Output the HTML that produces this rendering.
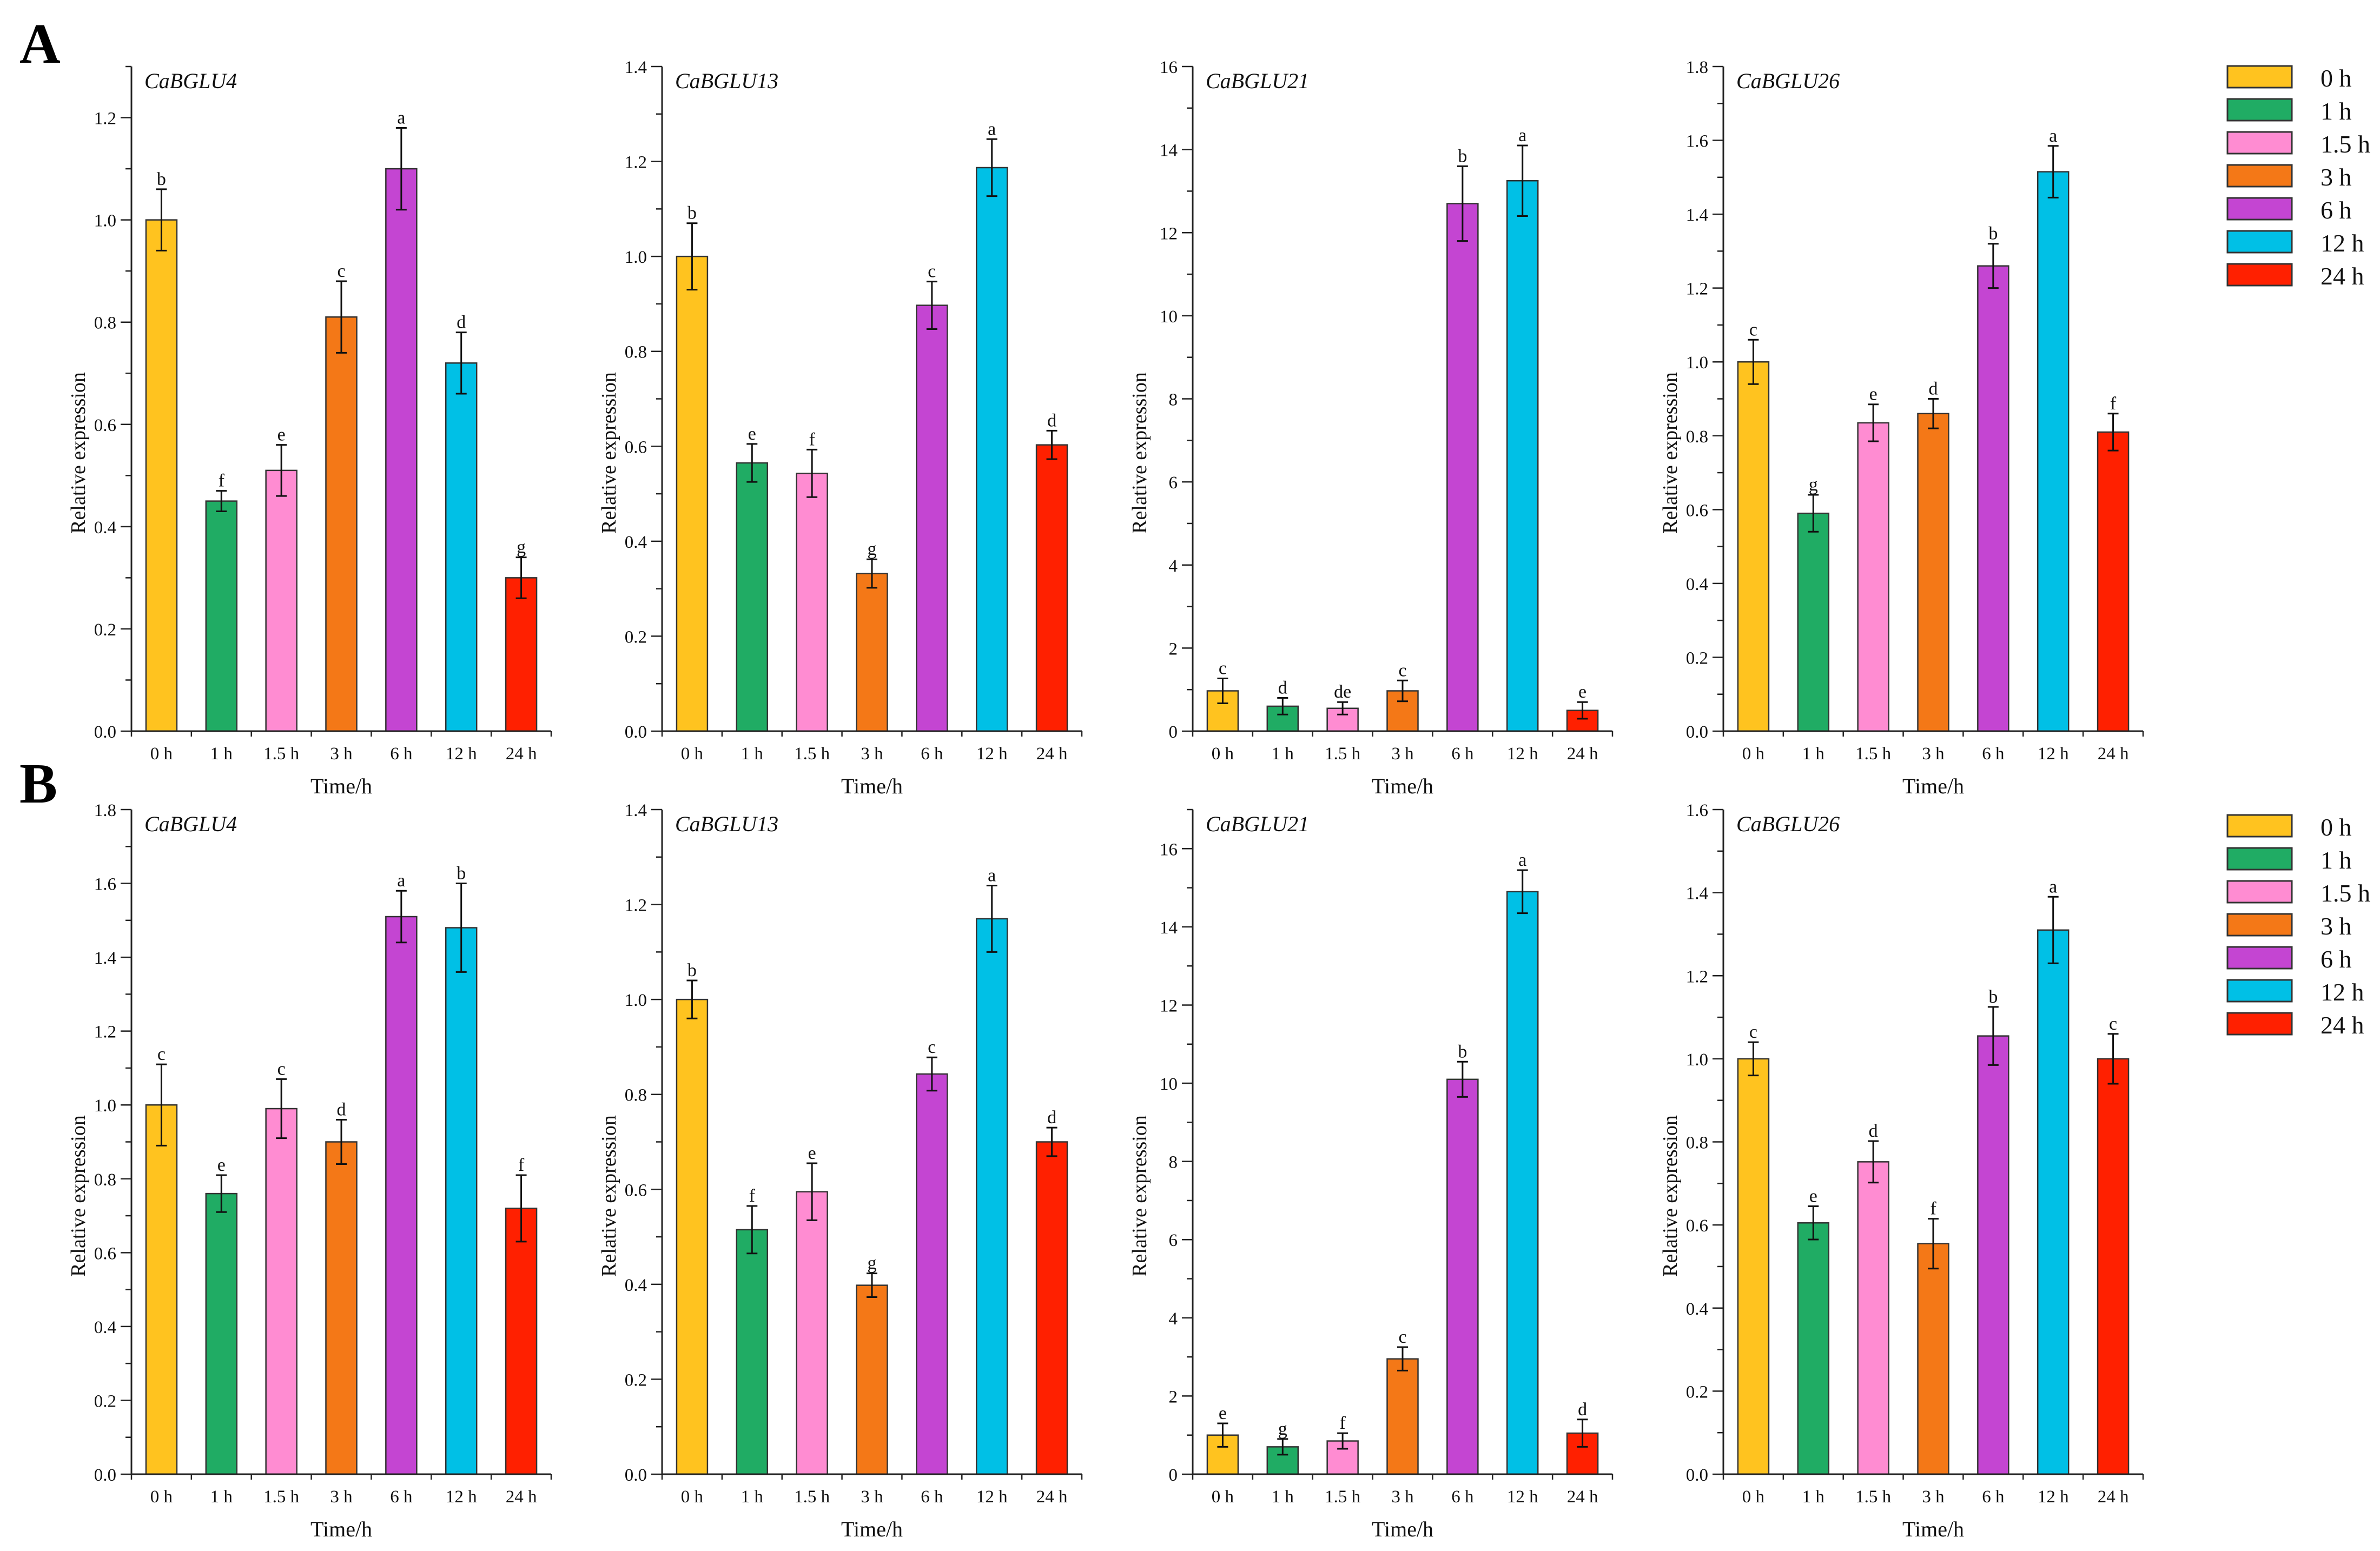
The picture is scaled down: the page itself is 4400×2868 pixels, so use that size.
<!DOCTYPE html>
<html><head><meta charset="utf-8"><style>
html,body{margin:0;padding:0;background:#fff;}
svg{display:block;font-family:"Liberation Serif",serif;}
</style></head><body>
<svg id="chart" width="4400" height="2868" viewBox="0 0 4400 2868" xmlns="http://www.w3.org/2000/svg"></svg>
<script>
const categories = ["0 h","1 h","1.5 h","3 h","6 h","12 h","24 h"];
const colors = ["#FFC31F","#20AC64","#FF8CD2","#F47817","#C445D2","#00C0E6","#FF2000"];
const genes = ["CaBGLU4","CaBGLU13","CaBGLU21","CaBGLU26"];

const a1Values = [1.0,0.45,0.51,0.81,1.10,0.72,0.30];
const a1Errors = [0.06,0.02,0.05,0.07,0.08,0.06,0.04];
const a1Letters = ["b","f","e","c","a","d","g"];
const a2Values = [1.0,0.565,0.543,0.332,0.897,1.187,0.603];
const a2Errors = [0.07,0.04,0.05,0.03,0.05,0.06,0.03];
const a2Letters = ["b","e","f","g","c","a","d"];
const a3Values = [0.97,0.6,0.55,0.97,12.7,13.25,0.5];
const a3Errors = [0.3,0.2,0.15,0.25,0.9,0.85,0.2];
const a3Letters = ["c","d","de","c","b","a","e"];
const a4Values = [1.0,0.59,0.835,0.86,1.26,1.515,0.81];
const a4Errors = [0.06,0.05,0.05,0.04,0.06,0.07,0.05];
const a4Letters = ["c","g","e","d","b","a","f"];
const b1Values = [1.0,0.76,0.99,0.9,1.51,1.48,0.72];
const b1Errors = [0.11,0.05,0.08,0.06,0.07,0.12,0.09];
const b1Letters = ["c","e","c","d","a","b","f"];
const b2Values = [1.0,0.515,0.595,0.398,0.843,1.17,0.70];
const b2Errors = [0.04,0.05,0.06,0.025,0.035,0.07,0.03];
const b2Letters = ["b","f","e","g","c","a","d"];
const b3Values = [1.0,0.7,0.85,2.95,10.1,14.9,1.05];
const b3Errors = [0.3,0.2,0.2,0.3,0.45,0.55,0.35];
const b3Letters = ["e","g","f","c","b","a","d"];
const b4Values = [1.0,0.605,0.752,0.555,1.055,1.31,1.0];
const b4Errors = [0.04,0.04,0.05,0.06,0.07,0.08,0.06];
const b4Letters = ["c","e","d","f","b","a","c"];

const a1Ticks = [0,0.2,0.4,0.6,0.8,1.0,1.2];
const a2Ticks = [0,0.2,0.4,0.6,0.8,1.0,1.2,1.4];
const a3Ticks = [0,2,4,6,8,10,12,14,16];
const a4Ticks = [0,0.2,0.4,0.6,0.8,1.0,1.2,1.4,1.6,1.8];
const b1Ticks = [0,0.2,0.4,0.6,0.8,1.0,1.2,1.4,1.6,1.8];
const b2Ticks = [0,0.2,0.4,0.6,0.8,1.0,1.2,1.4];
const b3Ticks = [0,2,4,6,8,10,12,14,16];
const b4Ticks = [0,0.2,0.4,0.6,0.8,1.0,1.2,1.4,1.6];
const axisMax = [1.3,1.4,16,1.8,1.8,1.4,17,1.6];

const NS="http://www.w3.org/2000/svg";
const svg=document.getElementById('chart');
function mk(tag,attrs,parent){const e=document.createElementNS(NS,tag);for(const k in attrs)e.setAttribute(k,attrs[k]);(parent||svg).appendChild(e);return e;}

const panels=[
 {v:a1Values,e:a1Errors,l:a1Letters,t:a1Ticks,max:axisMax[0],g:0,row:0,dec:1},
 {v:a2Values,e:a2Errors,l:a2Letters,t:a2Ticks,max:axisMax[1],g:1,row:0,dec:1},
 {v:a3Values,e:a3Errors,l:a3Letters,t:a3Ticks,max:axisMax[2],g:2,row:0,dec:0},
 {v:a4Values,e:a4Errors,l:a4Letters,t:a4Ticks,max:axisMax[3],g:3,row:0,dec:1},
 {v:b1Values,e:b1Errors,l:b1Letters,t:b1Ticks,max:axisMax[4],g:0,row:1,dec:1},
 {v:b2Values,e:b2Errors,l:b2Letters,t:b2Ticks,max:axisMax[5],g:1,row:1,dec:1},
 {v:b3Values,e:b3Errors,l:b3Letters,t:b3Ticks,max:axisMax[6],g:2,row:1,dec:0},
 {v:b4Values,e:b4Errors,l:b4Letters,t:b4Ticks,max:axisMax[7],g:3,row:1,dec:1}
];

panels.forEach((p,pi)=>{
  const x0=243+981*p.g, x1=x0+776;
  const yZero=p.row===0?1352:2726, yTop=yZero-1229;
  const band=(x1-x0)/categories.length;
  const xC=i=>x0+(i+0.5)*band;
  const yS=v=>yZero-(v/p.max)*(yZero-yTop);
  const G=mk('g',{});
  
  
  // bars
  p.v.forEach((val,i)=>{
    const bw=57;
    const r=mk('rect',{x:xC(i)-bw/2,y:yS(val),width:bw,height:yZero-yS(val),fill:colors[i],stroke:'#333',"stroke-width":2.5},G);
    
    
    const top=yS(val+p.e[i]), bot=yS(val-p.e[i]);
    const eb=mk('path',{d:`M${xC(i)},${top}V${bot}M${xC(i)-10},${top}H${xC(i)+10}M${xC(i)-10},${bot}H${xC(i)+10}`,stroke:'#111',"stroke-width":3,fill:'none'},G);
    
    
    const lt=mk('text',{x:xC(i),y:top-8,"text-anchor":'middle',"font-size":34,fill:'#111'},G);
    lt.textContent=p.l[i];
    
    
  });
  // axes
  const ax=mk('path',{d:`M${x0},${yTop}V${yZero}H${x1}`,stroke:'#222',"stroke-width":3,fill:'none'},G);
  
  
  const step=p.t[1]-p.t[0];
  for(let m=0;m<=p.max+1e-9;m+=step/2){
    const major=Math.abs(Math.round(m/step)*step-m)<1e-9;
    mk('line',{x1:x0-(major?20:11),x2:x0,y1:yS(m),y2:yS(m),stroke:'#222',"stroke-width":2.5},G);
  }
  p.t.forEach(tv=>{
    const tt=mk('text',{x:x0-28,y:yS(tv)+12,"text-anchor":'end',"font-size":33,fill:'#111'},G);
    tt.textContent=tv.toFixed(p.dec);
    
    
  });
  for(let i=0;i<=categories.length;i++){
    mk('line',{x1:x0+i*band,x2:x0+i*band,y1:yZero,y2:yZero+10,stroke:'#222',"stroke-width":2.5},G);
  }
  categories.forEach((c,i)=>{
    const xt=mk('text',{x:xC(i),y:yZero+52,"text-anchor":'middle',"font-size":33,fill:'#111'},G);
    xt.textContent=c;
    
    
  });
  const xl=mk('text',{x:(x0+x1)/2,y:yZero+115,"text-anchor":'middle',"font-size":40,fill:'#111'},G);
  xl.textContent='Time/h';
  
  
  const yl=mk('text',{x:0,y:0,"text-anchor":'middle',"font-size":38,fill:'#111',transform:`translate(${x0-86},${(yTop+yZero)/2+100}) rotate(-90)`},G);
  yl.textContent='Relative expression';
  
  
  const ti=mk('text',{x:x0+24,y:yTop+40,"font-size":40,"font-style":'italic',fill:'#111'},G);
  ti.textContent=genes[p.g];
  
  
});

// panel letters
[["A",116],["B",1484]].forEach(([t,y])=>{
  const e=mk('text',{x:36,y:y,"font-size":105,"font-weight":'bold',fill:'#000'});
  e.textContent=t;
  
  
});

// legends
[122,1507].forEach((ly,li)=>{
  const L=mk('g',{});
  
  
  categories.forEach((c,i)=>{
    const r=mk('rect',{x:4118,y:ly+i*61,width:119,height:40,fill:colors[i],stroke:'#333',"stroke-width":3},L);
    
    
    const t=mk('text',{x:4290,y:ly+i*61+38,"font-size":46,fill:'#111'},L);
    t.textContent=c;
    
    
  });
});
</script>
</body></html>
